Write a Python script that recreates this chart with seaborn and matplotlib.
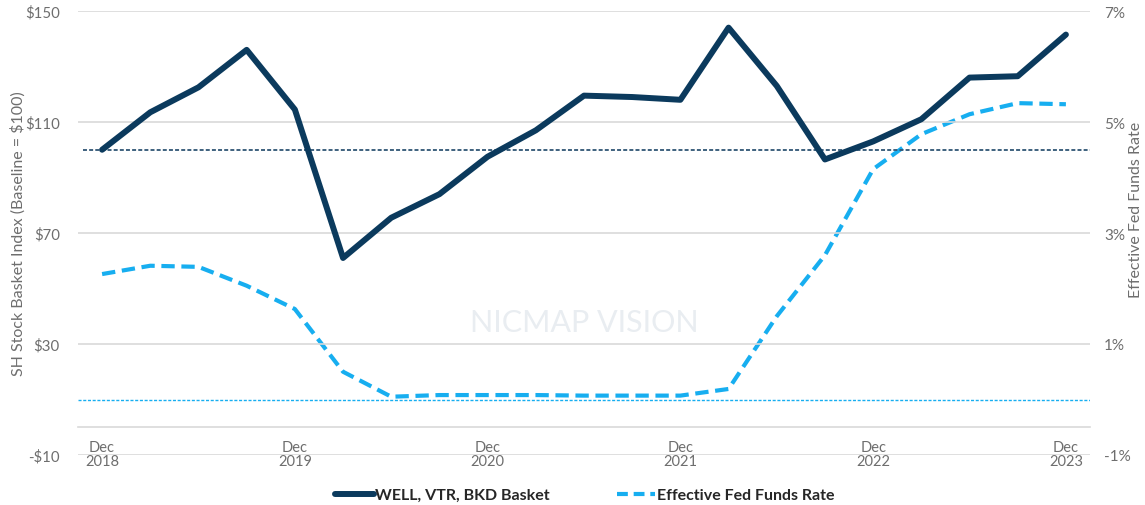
import numpy as np
import pandas as pd
import matplotlib
matplotlib.use("Agg")
import matplotlib.pyplot as plt
import seaborn as sns
from matplotlib.lines import Line2D

# quarterly points, Dec 2018 .. Dec 2023
quarters = [
    "Dec 2018", "Mar 2019", "Jun 2019", "Sep 2019",
    "Dec 2019", "Mar 2020", "Jun 2020", "Sep 2020",
    "Dec 2020", "Mar 2021", "Jun 2021", "Sep 2021",
    "Dec 2021", "Mar 2022", "Jun 2022", "Sep 2022",
    "Dec 2022", "Mar 2023", "Jun 2023", "Sep 2023",
    "Dec 2023",
]
basket = [100, 113.5, 122.5, 136, 114.5, 61, 75.5, 84, 97.5, 107,
          119.5, 119, 118, 144, 123, 96.5, 103, 111, 126, 126.5, 141.5]
fed_rate = [2.26, 2.41, 2.39, 2.05, 1.63, 0.5, 0.05, 0.08, 0.08, 0.08,
            0.07, 0.07, 0.07, 0.19, 1.5, 2.6, 4.15, 4.78, 5.14, 5.34, 5.32]

left_ticks = [-10, 30, 70, 110, 150]
right_ticks = [-1, 1, 3, 5, 7]
baseline = 100

NAVY = "#0b3a5d"
SKY = "#17aef0"
GREY = "#6e6e6e"
GRID = "#d9d9d9"

df = pd.DataFrame({"q": np.arange(len(quarters)), "basket": basket, "rate": fed_rate})

sns.set_style("white")
plt.rcParams["font.family"] = ["Lato", "DejaVu Sans"]

fig = plt.figure(figsize=(11.45, 5.06), dpi=100)
ax = fig.add_axes([78 / 1145, 1 - 456 / 506, 1012 / 1145, 444 / 506])
ax2 = ax.twinx()

# grid lines
for t in left_ticks:
    ax.axhline(t, color=GRID, lw=1.2, zorder=0)
ax.axhline(baseline, color="#2f5574", lw=1.3, ls=(0, (2.2, 1.2)), zorder=1,
           xmin=5 / 1012)
ax2.axhline(0, color=SKY, lw=1.0, ls=(0, (2.2, 1.2)), zorder=1)

sns.lineplot(data=df, x="q", y="rate", ax=ax2, color=SKY, lw=3.0, zorder=3)
ax2.lines[-1].set_dashes([3.2, 1.6])
ax2.lines[-1].set_dash_capstyle("butt")
ax2.lines[-1].set_dash_joinstyle("round")
sns.lineplot(data=df, x="q", y="basket", ax=ax, color=NAVY, lw=4.3, zorder=4)
ax.lines[-1].set_solid_joinstyle("round")
ax.lines[-1].set_solid_capstyle("round")

# put the navy line above the twin axes
ax.set_zorder(ax2.get_zorder() + 1)
ax.patch.set_visible(False)

ax.set_xlim(-0.5, len(quarters) - 0.5)
ax.set_ylim(-10, 150)
ax2.set_ylim(-1, 7)

ax.set_yticks(left_ticks)
ax.set_yticklabels([f"-${-t}" if t < 0 else f"${t}" for t in left_ticks])
ax2.set_yticks(right_ticks)
ax2.set_yticklabels([f"{t}%" for t in right_ticks])

# x axis at zero with quarter boundary ticks
for s in ["top", "left", "right"]:
    ax.spines[s].set_visible(False)
    ax2.spines[s].set_visible(False)
ax2.spines["bottom"].set_visible(False)
ax.spines["bottom"].set_position(("data", 0))
ax.spines["bottom"].set_color(GRID)
ax.spines["bottom"].set_linewidth(1.2)

dec_idx = [i for i, q in enumerate(quarters) if q.startswith("Dec")]
ax.set_xticks(dec_idx)
ax.set_xticklabels([quarters[i].replace(" ", "\n") for i in dec_idx])
ax.set_xticks(np.arange(len(quarters) + 1) - 0.5, minor=True)
ax.tick_params(axis="x", which="major", length=0, pad=9, labelsize=10.5,
               labelcolor=GREY)
ax.tick_params(axis="x", which="minor", length=4.5, width=1.2, color=GRID,
               direction="out")
for lab in ax.get_xticklabels():
    lab.set_linespacing(1.05)

ax.tick_params(axis="y", length=0, pad=13, labelsize=10.8, labelcolor=GREY)
ax2.tick_params(axis="y", length=0, pad=10, labelsize=11, labelcolor=GREY)

ax.set_xlabel("")
ax.set_ylabel("")
ax2.set_ylabel("")
fig.text(18 / 1145, 1 - 234 / 506, "SH Stock Basket Index (Baseline = $100)",
         rotation=90, ha="center", va="center", fontsize=11.5, color=GREY)
fig.text(1136 / 1145, 1 - 210 / 506, "Effective Fed Funds Rate", rotation=90,
         ha="center", va="center", fontsize=11.5, color=GREY)

# watermark
ax.text(0.5, 0.3, "NICMAP VISION", transform=ax.transAxes, ha="center",
        va="center", fontsize=22, color="#e9edf1", zorder=0)

handles = [
    Line2D([], [], color=NAVY, lw=4.3, solid_capstyle="round"),
    Line2D([], [], color=SKY, lw=3.0, dashes=[2.6, 1.4]),
]
fig.legend(handles, ["WELL, VTR, BKD Basket", "Effective Fed Funds Rate"],
           loc="center", bbox_to_anchor=(585 / 1145, 1 - 496 / 506), ncol=2,
           frameon=False, handlelength=2.4, handletextpad=0.1,
           columnspacing=4.2, prop={"size": 11.5, "weight": "bold"})

fig.savefig("out.png", dpi=100)
